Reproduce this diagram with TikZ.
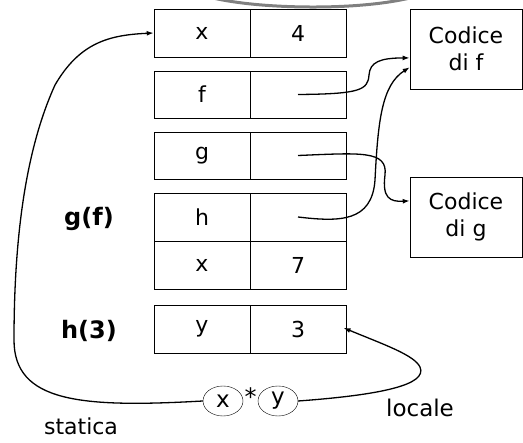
\documentclass[tikz,border=0pt]{standalone}
\usepackage{fontspec}
\setmainfont{DejaVu Sans}
\usetikzlibrary{arrows.meta,shapes.geometric}

\begin{document}
\begin{tikzpicture}[x=1pt, y=-1pt, >={Latex[length=7pt,width=5pt]},
  cell/.style={draw=black, semithick, minimum width=96pt, minimum height=48pt, inner sep=0pt, font=\fontsize{22}{27}\selectfont},
  code/.style={draw=black, semithick, minimum width=112pt, minimum height=80pt, inner sep=0pt, align=center, font=\fontsize{22}{27}\selectfont},
  oval/.style={draw=black, ellipse, minimum width=40pt, minimum height=30pt, inner sep=0pt, font=\fontsize{23}{27}\selectfont},
  lbl/.style={inner sep=0pt, font=\fontsize{22}{27}\selectfont},
  link/.style={->, line width=1.3pt}]
\useasboundingbox (0,0) rectangle (523,443);
\draw [line width=3pt, gray] (213,-2) .. controls (260,9) and (355,11) .. (410,-2) ;
\node[cell] (cx) at (202, 33) {x};
\node[cell] (cxv) at (298, 33) {4};
\node[cell, minimum height=47pt] (cf) at (202, 94.5) {f};
\node[cell, minimum height=47pt] (cfv) at (298, 94.5) {};
\node[cell, minimum height=47pt] (cg) at (202, 155.5) {g};
\node[cell, minimum height=47pt] (cgv) at (298, 155.5) {};
\node[cell] (ch) at (202, 217) {h};
\node[cell] (chv) at (298, 217) {};
\node[cell] (cx2) at (202, 265) {x};
\node[cell] (cx2v) at (298, 265) {7};
\node[cell] (cy) at (202, 329) {y};
\node[cell] (cyv) at (298, 329) {3};
\node[code] (codf) at (466, 49) {Codice\\di f};
\node[code] (codg) at (466, 217) {Codice\\di g};
\node[lbl, font=\fontsize{24}{27}\selectfont\bfseries] (gf) at (89, 219) {g(f)};
\node[lbl, font=\fontsize{24}{27}\selectfont\bfseries] (h3) at (89, 331) {h(3)};
\node[oval] (cxx) at (223, 401) {x};
\node[oval] (cyy) at (278, 401) {y};
\node[lbl, font=\fontsize{24}{27}\selectfont] (star) at (250.5, 397) {*};
\node[lbl] (stat) at (81, 426) {statica};
\node[lbl, font=\fontsize{23}{27}\selectfont] (loc) at (420, 408) {locale};
\draw [link] (cfv.center) .. controls (360,94) and (368,90) .. (369,75) .. controls (370,62) and (380,58) .. (codf.189) ;
\draw [link] (cgv.center) .. controls (360,153) and (388,150) .. (385,175) .. controls (382,198) and (390,202) .. (codg.164) ;
\draw [link] (chv.center) .. controls (340,222) and (372,222) .. (375,180) .. controls (378,120) and (382,85) .. (codf.198) ;
\draw [link] (cxx.west) .. controls (80,408) and (14,402) .. (14,340) .. controls (14,220) and (30,140) .. (55,85) .. controls (80,42) and (110,35) .. (cx.west) ;
\draw [link, shorten >=-3pt] (cyy.east) .. controls (380,395) and (428,385) .. (420,367) .. controls (414,355) and (385,345) .. (cyv.east) ;
\end{tikzpicture}
\end{document}
